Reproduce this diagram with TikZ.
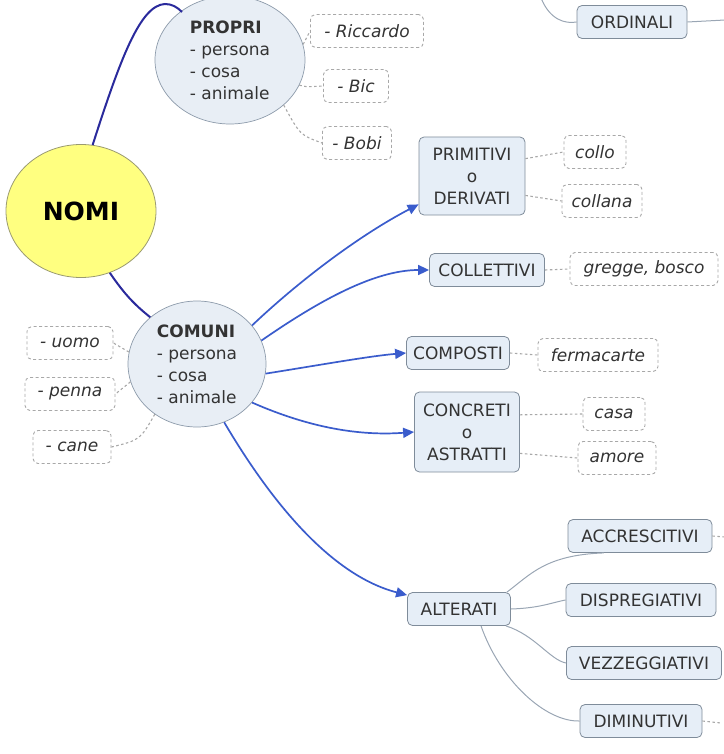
\documentclass[tikz,border=0pt]{standalone}
\usepackage{fontspec}
\setmainfont{DejaVu Sans}
\usetikzlibrary{shapes.geometric,arrows.meta}
\definecolor{nomiyel}{HTML}{FFFF80}
\definecolor{nomibd}{HTML}{9A9A70}
\definecolor{circfill}{HTML}{E8EEF5}
\definecolor{circbd}{HTML}{8C9AAA}
\definecolor{boxfill}{HTML}{E6EEF7}
\definecolor{boxbd}{HTML}{7F8C9A}
\definecolor{dashbd}{HTML}{A8A8A8}
\definecolor{arrblue}{HTML}{3A5CCC}
\definecolor{navy}{HTML}{2A2A9C}
\definecolor{linegray}{HTML}{9AA6B4}
\tikzset{
  txt/.style={font=\fontsize{17}{22}\selectfont, text=black!80},
  nomistyle/.style={ellipse, draw=nomibd, fill=nomiyel, line width=0.8pt, font=\fontsize{25}{28}\selectfont\bfseries, inner sep=0pt},
  circstyle/.style={ellipse, draw=circbd, fill=circfill, line width=0.7pt, inner sep=0pt, txt, align=left},
  catbox/.style={rectangle, rounded corners=5pt, draw=boxbd, fill=boxfill, line width=0.8pt, inner sep=0pt, txt, align=center, minimum height=33},
  exbox/.style={rectangle, rounded corners=5pt, draw=dashbd, dash pattern=on 3pt off 2.5pt, line width=0.9pt, fill=white, inner sep=0pt, txt, font=\fontsize{17}{20}\selectfont\itshape, minimum height=33},
  bluearrow/.style={draw=arrblue, line width=1.7pt, -{Triangle[length=11pt,width=10pt]}},
  navyline/.style={draw=navy, line width=2pt},
  dotline/.style={draw=dashbd, dash pattern=on 2.5pt off 2.5pt, line width=1.1pt},
  grayline/.style={draw=linegray, line width=1pt}
}
\begin{document}
\begin{tikzpicture}[x=1pt,y=-1pt]
\useasboundingbox (0,0) rectangle (723,754);
% main nodes
\node[nomistyle, minimum width=150, minimum height=133] (nomi) at (81,211) {NOMI};
\node[circstyle, minimum width=150, minimum height=128] (propri) at (230,60)
  {\textbf{PROPRI}\\- persona\\- cosa\\- animale};
\node[circstyle, minimum width=138, minimum height=126] (comuni) at (197,364)
  {\textbf{COMUNI}\\- persona\\- cosa\\- animale};
% category boxes
\node[catbox, minimum width=106, minimum height=78] (prim) at (472,176) {PRIMITIVI\\o\\DERIVATI};
\node[catbox, minimum width=115] (coll) at (487,270) {COLLETTIVI};
\node[catbox, minimum width=103] (comp) at (458,353) {COMPOSTI};
\node[catbox, minimum width=105, minimum height=80] (conc) at (467,432) {CONCRETI\\o\\ASTRATTI};
\node[catbox, minimum width=103] (alt) at (459,609) {ALTERATI};
\node[catbox, minimum width=144] (accr) at (640,536) {ACCRESCITIVI};
\node[catbox, minimum width=150] (disp) at (641,600) {DISPREGIATIVI};
\node[catbox, minimum width=155] (vezz) at (644,663) {VEZZEGGIATIVI};
\node[catbox, minimum width=122] (dimi) at (641,721) {DIMINUTIVI};
\node[catbox, minimum width=110] (ordi) at (632,22) {ORDINALI};
% example boxes
\node[exbox, minimum width=113] (ricc) at (367,31) {- Riccardo};
\node[exbox, minimum width=65] (bic) at (356,86) {- Bic};
\node[exbox, minimum width=69] (bobi) at (357,143) {- Bobi};
\node[exbox, minimum width=62] (collo) at (595,152) {collo};
\node[exbox, minimum width=80] (collana) at (602,201) {collana};
\node[exbox, minimum width=148] (gregge) at (644,269) {gregge, bosco};
\node[exbox, minimum width=120] (ferm) at (598,355) {fermacarte};
\node[exbox, minimum width=62] (casa) at (614,414) {casa};
\node[exbox, minimum width=78] (amore) at (617,458) {amore};
\node[exbox, minimum width=86] (uomo) at (70,343) {- uomo};
\node[exbox, minimum width=90] (penna) at (70,394) {- penna};
\node[exbox, minimum width=78] (cane) at (72,447) {- cane};
% free ends
\coordinate (ordtop) at (541,-2);
\coordinate (ordright) at (725,20);
\coordinate (accrend) at (725,537);
\coordinate (dimiend) at (721,723);
% navy connectors
\draw[navyline] (nomi.80) .. controls (120,60) and (140,5) .. (165,4) .. controls (172,4) and (177,7) .. (182,12);
\draw[navyline] (nomi.295) .. controls (125,295) and (135,305) .. (comuni.135);
% blue arrows
\draw[bluearrow] (comuni.35) .. controls (300,280) and (360,235) .. (prim.208);
\draw[bluearrow] (comuni.20) .. controls (320,300) and (375,270) .. (coll.west);
\draw[bluearrow] (comuni.352) .. controls (320,365) and (370,356) .. (comp.west);
\draw[bluearrow] (comuni.325) .. controls (310,428) and (360,436) .. (conc.west);
\draw[bluearrow] (comuni.295) .. controls (270,500) and (330,575) .. (alt.165);
% dotted links
\draw[dotline] (propri.12) -- (ricc.west);
\draw[dotline] (propri.340) .. controls (305,87) .. (bic.west);
\draw[dotline] (propri.320) .. controls (300,135) .. (bobi.west);
\draw[dotline] (prim.18) -- (collo.west);
\draw[dotline] (prim.340) -- (collana.west);
\draw[dotline] (coll.east) -- (gregge.west);
\draw[dotline] (comp.east) -- (ferm.west);
\draw[dotline] (conc.18) -- (casa.west);
\draw[dotline] (conc.338) -- (amore.west);
\draw[dotline] (comuni.170) -- (uomo.east);
\draw[dotline] (comuni.195) -- (penna.east);
\draw[dotline] (comuni.230) .. controls (140,440) .. (cane.east);
\draw[dotline] (accr.east) -- (accrend);
\draw[dotline] (dimi.east) -- (dimiend);
% gray lines
\draw[grayline] (ordtop) .. controls (550,20) and (565,24) .. (ordi.west);
\draw[grayline] (ordi.east) -- (ordright);
\draw[grayline] (alt.north east) ++(-4,0) .. controls (530,575) and (545,555) .. (accr.205);
\draw[grayline] (alt.east) .. controls (540,608) and (550,603) .. (disp.west);
\draw[grayline] (alt.south east) ++(-5,0) .. controls (535,635) and (550,660) .. (vezz.west);
\draw[grayline] (alt.south) ++(22,0) .. controls (500,680) and (545,722) .. (dimi.west);
\end{tikzpicture}
\end{document}
